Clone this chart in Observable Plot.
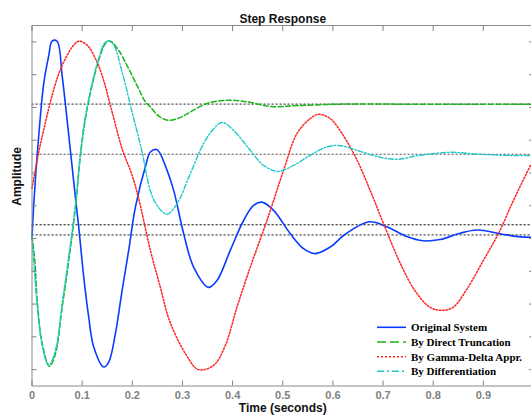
<!DOCTYPE html>
<html><head><meta charset="utf-8">
<script src="https://cdn.jsdelivr.net/npm/d3@7"></script>
<script src="https://cdn.jsdelivr.net/npm/@observablehq/plot@0.6"></script>
<style>
html,body{margin:0;padding:0;background:#fff;overflow:hidden}
#wrap{position:relative;width:531px;height:417px}
#wrap svg.leg{position:absolute;left:0;top:0}
</style></head><body><div id="wrap"></div>
<script>
// ---- data ----
const xTicks = [0, 0.1, 0.2, 0.3, 0.4, 0.5, 0.6, 0.7, 0.8, 0.9];
const xTickLabels = ["0", "0.1", "0.2", "0.3", "0.4", "0.5", "0.6", "0.7", "0.8", "0.9"];
const yTicks = [0, 1, 2, 3, 4, 5, 6, 7, 8, 9, 10];

const seriesNames = ["Original System", "By Direct Truncation", "By Gamma-Delta Appr.", "By Differentiation"];
const seriesColors = ["#0a3cff", "#19b419", "#ff2424", "#22c8c8"];

const tOriginal = [0, 0.0036, 0.0135, 0.0235, 0.0335, 0.040, 0.050, 0.060, 0.0733, 0.0867, 0.0932, 0.1032, 0.1131, 0.1231, 0.143, 0.153, 0.1663, 0.1797, 0.1928, 0.2062, 0.2273, 0.2361, 0.2494, 0.2693, 0.2825, 0.3024, 0.3223, 0.3522, 0.3689, 0.3954, 0.4219, 0.4418, 0.4586, 0.4817, 0.5149, 0.5414, 0.5647, 0.5946, 0.6245, 0.6723, 0.7062, 0.746, 0.7799, 0.8137, 0.8536, 0.8875, 0.9353, 0.9751, 1.0];
const yOriginal = [4.00, 5.07, 7.15, 8.74, 9.59, 10.02, 10.02, 8.98, 7.15, 5.23, 4.35, 2.82, 1.60, 0.69, 0.08, 0.23, 1.10, 2.42, 3.64, 4.96, 6.26, 6.64, 6.71, 6.08, 5.47, 4.15, 3.13, 2.51, 2.72, 3.64, 4.55, 5.01, 5.11, 4.86, 4.15, 3.69, 3.54, 3.74, 4.13, 4.51, 4.37, 4.07, 3.93, 3.97, 4.16, 4.26, 4.14, 4.05, 4.04];

const tTruncation = [0, 0.0056, 0.0104, 0.0203, 0.0349, 0.0468, 0.0602, 0.0733, 0.0867, 0.0966, 0.1066, 0.1199, 0.1331, 0.1464, 0.155, 0.1729, 0.1928, 0.2127, 0.2261, 0.2361, 0.254, 0.2719, 0.2938, 0.3157, 0.349, 0.3888, 0.4287, 0.4771, 0.5349, 0.6145, 0.75, 1.0];
const yTruncation = [4.07, 3.33, 2.11, 0.80, 0.10, 0.49, 1.91, 3.33, 4.96, 6.54, 7.67, 8.68, 9.44, 9.95, 10.03, 9.74, 9.18, 8.57, 8.17, 8.01, 7.72, 7.61, 7.68, 7.86, 8.12, 8.22, 8.17, 8.03, 8.06, 8.10, 8.10, 8.10];

const tGammaDelta = [0, 0.0135, 0.0269, 0.0402, 0.0534, 0.0667, 0.0801, 0.0932, 0.11, 0.1265, 0.1398, 0.1598, 0.1797, 0.1996, 0.2127, 0.2361, 0.256, 0.2745, 0.3078, 0.3317, 0.3622, 0.3855, 0.4088, 0.4353, 0.4685, 0.5016, 0.5283, 0.5548, 0.5713, 0.5946, 0.6118, 0.6444, 0.6743, 0.7042, 0.7341, 0.764, 0.7938, 0.8197, 0.8396, 0.867, 0.9, 0.93, 0.96, 0.9865, 1.0];
const yGammaDelta = [5.53, 6.64, 7.55, 8.37, 9.03, 9.49, 9.84, 10.02, 9.90, 9.49, 8.98, 7.86, 6.74, 5.93, 5.22, 3.64, 2.51, 1.48, 0.44, 0.00, 0.13, 0.74, 1.91, 3.13, 4.55, 6.08, 7.20, 7.66, 7.79, 7.66, 7.35, 6.51, 5.47, 4.33, 3.25, 2.40, 1.90, 1.81, 1.90, 2.45, 3.33, 4.15, 5.16, 6.00, 6.40];

const tDifferentiation = [0, 0.003, 0.0104, 0.0203, 0.0335, 0.0468, 0.0602, 0.0733, 0.0867, 0.0966, 0.1066, 0.1199, 0.1331, 0.1444, 0.1524, 0.163, 0.1797, 0.1996, 0.2195, 0.2361, 0.2494, 0.2693, 0.2892, 0.3157, 0.3422, 0.3622, 0.3789, 0.402, 0.4353, 0.4618, 0.4916, 0.5215, 0.5548, 0.5847, 0.6118, 0.6544, 0.6942, 0.7281, 0.7739, 0.8337, 0.8934, 0.9731, 1.0];
const yDifferentiation = [4.07, 3.39, 1.96, 0.74, 0.13, 0.59, 2.02, 3.46, 5.04, 6.60, 7.73, 8.74, 9.50, 9.96, 10.03, 9.90, 9.08, 7.86, 6.64, 5.45, 5.01, 4.74, 5.06, 5.98, 6.90, 7.35, 7.54, 7.30, 6.69, 6.23, 6.05, 6.23, 6.54, 6.78, 6.84, 6.66, 6.48, 6.42, 6.54, 6.63, 6.57, 6.53, 6.54];

// steady-state levels (dotted reference lines)
const steadyLevels = [8.10, 6.57, 4.42, 4.11];

// ---- build ----
function rows(ts, ys, name) { return ts.map((t, i) => ({t, v: ys[i], series: name})); }
const dOrig = rows(tOriginal, yOriginal, seriesNames[0]);
const dTrunc = rows(tTruncation, yTruncation, seriesNames[1]);
const dGamma = rows(tGammaDelta, yGammaDelta, seriesNames[2]);
const dDiff = rows(tDifferentiation, yDifferentiation, seriesNames[3]);

const dashes = [null, "5,2.5", "1.5,1.8", "5,2,1.5,2"];
const widths = [1.6, 1.5, 1.5, 1.4];
const curve = "catmull-rom";

const plot = Plot.plot({
  width: 531,
  height: 417,
  marginTop: 25,
  marginBottom: 31.5,
  marginLeft: 31.5,
  marginRight: -2,
  style: {fontFamily: "'Liberation Sans', Arial, sans-serif", fontWeight: "bold", background: "#fff", overflow: "visible"},
  x: {domain: [0, 1]},
  y: {domain: [-0.5, 10.5]},
  marks: [
    Plot.ruleY(steadyLevels, {y: d => d, stroke: (d, i) => i === 2 ? "#111" : "#555", strokeWidth: 1.1, strokeDasharray: "2.2,1.8"}),
    Plot.line(dOrig, {x: "t", y: "v", stroke: seriesColors[0], strokeWidth: widths[0], curve}),
    Plot.line(dTrunc, {x: "t", y: "v", stroke: seriesColors[1], strokeWidth: widths[1], strokeDasharray: dashes[1], curve}),
    Plot.line(dGamma, {x: "t", y: "v", stroke: seriesColors[2], strokeWidth: widths[2], strokeDasharray: dashes[2], curve}),
    Plot.line(dDiff, {x: "t", y: "v", stroke: seriesColors[3], strokeWidth: widths[3], strokeDasharray: dashes[3], curve}),
    Plot.frame({stroke: "#8a8a8a", strokeWidth: 1}),
    Plot.axisX({anchor: "bottom", ticks: xTicks, tickSize: -5, tickPadding: 10, color: "#808080", fontSize: 11,
      tickFormat: d => xTickLabels[xTicks.indexOf(d)], label: null}),
    Plot.axisX({anchor: "top", ticks: xTicks, tickSize: -5, color: "#808080", tickFormat: () => "", label: null}),
    Plot.axisY({anchor: "left", ticks: yTicks, tickSize: -5, color: "#808080", tickFormat: () => "", label: null}),
    Plot.axisY({anchor: "right", ticks: yTicks, tickSize: -5, color: "#808080", tickFormat: () => "", label: null}),
    Plot.text(["Step Response"], {text: d => d, frameAnchor: "top", dy: -11, fontSize: 12, fill: "#111"}),
    Plot.text(["Time (seconds)"], {text: d => d, frameAnchor: "bottom", dy: 25.5, fontSize: 12, fill: "#111"}),
    Plot.text(["Amplitude"], {text: d => d, frameAnchor: "left", rotate: -90, dx: -14.5, fontSize: 12, fill: "#111"})
  ]
});

const wrap = document.getElementById("wrap");
wrap.appendChild(plot);

// legend (inside plot, lower right)
const leg = d3.select(wrap).append("svg").attr("class", "leg").attr("width", 531).attr("height", 417);
const rowY = [327.3, 342.1, 356.7, 371.2];
const legDash = [null, "9,4", "2,2", "7,3,2,3"];
seriesNames.forEach((name, i) => {
  const g = leg.append("g").attr("transform", `translate(0,${rowY[i]})`);
  g.append("line").attr("x1", 377).attr("x2", 406).attr("y1", 0).attr("y2", 0)
    .attr("stroke", seriesColors[i]).attr("stroke-width", widths[i])
    .attr("stroke-dasharray", legDash[i]);
  g.append("text").attr("x", 411).attr("y", 0).attr("dy", "0.35em")
    .attr("font-family", "'Liberation Serif', 'Times New Roman', serif")
    .attr("font-weight", "bold").attr("font-size", 11).attr("fill", "#000")
    .text(name);
});
</script></body></html>
